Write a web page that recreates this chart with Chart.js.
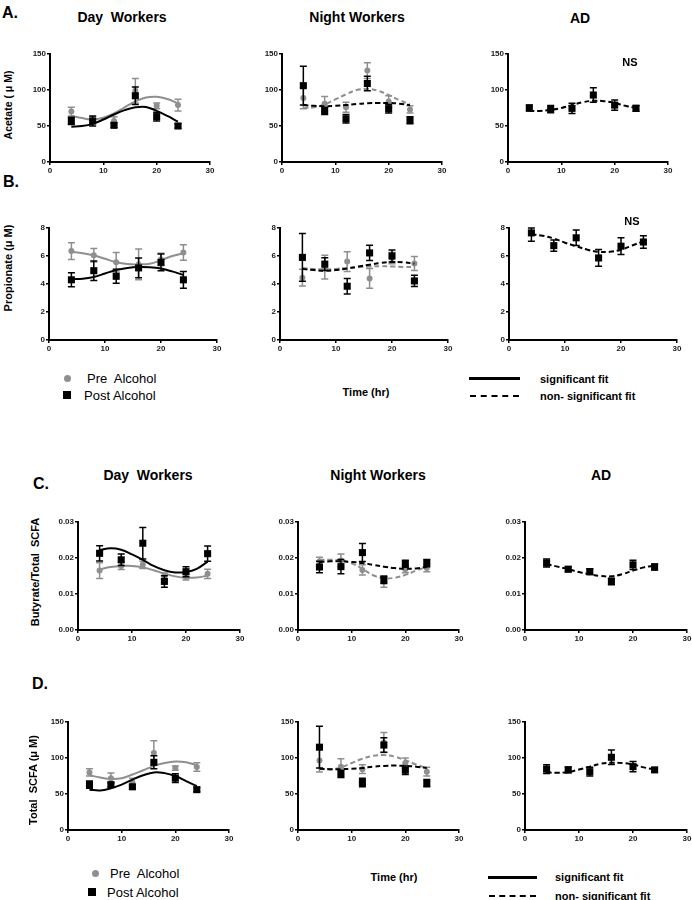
<!DOCTYPE html>
<html>
<head>
<meta charset="utf-8">
<script src="https://cdn.jsdelivr.net/npm/chart.js@4"></script>
<style>
  body { margin: 0; width: 692px; height: 900px; position: relative; overflow: hidden; background: #fff;
         font-family: "Liberation Sans", Arial, sans-serif; color: #000; }
  canvas { position: absolute; }
  .t { position: absolute; white-space: pre; transform: translate(-50%, -50%); font-weight: bold; line-height: 1; }
  .l { position: absolute; white-space: pre; transform: translate(0, -50%); line-height: 1; }
  .yt { position: absolute; white-space: pre; transform: translate(-50%, -50%) rotate(-90deg); font-weight: bold; font-size: 11px; line-height: 1; }
  .sw { position: absolute; }
</style>
</head>
<body>
<script>
const hours = [4, 8, 12, 16, 20, 24];
const fitHours = [4, 6, 8, 10, 12, 14, 16, 18, 20, 22, 24];
const xTicks = [0, 10, 20, 30];
const concTicks = [0, 50, 100, 150];
const propTicks = [0, 2, 4, 6, 8];
const ratioTicks = [0, 0.01, 0.02, 0.03];

// A. acetate
const acDayPre = [70, 58, 57, 99, 78, 79];
const acDayPreErr = [6, 5, 6, 17, 4, 8];
const acDayPost = [57, 57, 51, 92, 63, 50];
const acDayPostErr = [5, 7, 3, 12, 6, 3];
const acDayPreFit = [64, 61, 59, 61.5, 67.5, 76, 84, 89.5, 90.5, 87.5, 81.5];
const acDayPostFit = [49, 50, 53, 59, 66, 72, 76, 76.5, 71, 64, 56];

const acNightPre = [89, 81, 76, 127, 84, 73];
const acNightPreErr = [15, 10, 7, 11, 8, 5];
const acNightPost = [106, 71, 60, 109, 74, 58];
const acNightPostErr = [27, 5, 6, 10, 6, 5];
const acNightPreFit = [75, 76, 80, 87, 94, 100, 101.5, 99, 93, 86, 80];
const acNightPostFit = [79, 78, 77.5, 78, 79, 80.5, 81.5, 82, 82, 81, 79];

const acAD = [75, 73.5, 74.5, 93, 79, 74.5];
const acADErr = [4, 5, 7, 10, 7, 4];
const acADFit = [71, 71, 72.5, 75, 79, 83, 85, 84.5, 82, 78, 75];

// B. propionate
const prDayPre = [6.35, 6.05, 5.55, 5.4, 5.75, 6.25];
const prDayPreErr = [0.6, 0.48, 0.7, 1.1, 0.45, 0.55];
const prDayPost = [4.3, 4.95, 4.55, 5.15, 5.55, 4.3];
const prDayPostErr = [0.5, 0.7, 0.5, 0.7, 0.6, 0.6];
const prDayPreFit = [6.3, 6.2, 6.05, 5.8, 5.55, 5.42, 5.4, 5.45, 5.7, 6.0, 6.2];
const prDayPostFit = [4.35, 4.37, 4.5, 4.75, 5.0, 5.15, 5.22, 5.2, 5.1, 4.9, 4.65];

const prNightPre = [4.45, 5.2, 5.6, 4.4, 5.85, 5.47];
const prNightPreErr = [0.6, 0.85, 0.7, 0.7, 0.4, 0.5];
const prNightPost = [5.9, 5.42, 3.84, 6.22, 6.0, 4.22];
const prNightPostErr = [1.7, 0.45, 0.55, 0.55, 0.42, 0.4];
const prNightPreFit = [5.15, 5.08, 5.05, 5.08, 5.15, 5.2, 5.25, 5.27, 5.25, 5.22, 5.2];
const prNightPostFit = [5.08, 5.0, 4.95, 5.0, 5.1, 5.25, 5.38, 5.5, 5.57, 5.55, 5.45];

const prAD = [7.65, 6.74, 7.3, 5.86, 6.7, 7.0];
const prADErr = [0.6, 0.4, 0.55, 0.6, 0.6, 0.45];
const prADFit = [7.55, 7.45, 7.25, 6.95, 6.7, 6.45, 6.3, 6.3, 6.45, 6.75, 7.05];

// C. butyrate / total SCFA
const buDayPre = [0.0165, 0.0178, 0.0181, 0.0150, 0.0147, 0.0156];
const buDayPreErr = [0.0022, 0.001, 0.001, 0.0008, 0.0008, 0.0013];
const buDayPost = [0.0213, 0.0195, 0.0241, 0.0135, 0.0162, 0.0212];
const buDayPostErr = [0.0021, 0.0016, 0.0044, 0.0016, 0.0014, 0.0021];
const buDayPreFit = [0.0168, 0.0175, 0.0178, 0.0178, 0.0174, 0.0166, 0.0157, 0.0149, 0.0145, 0.0146, 0.0151];
const buDayPostFit = [0.0222, 0.0227, 0.0223, 0.0210, 0.0195, 0.0178, 0.0166, 0.0160, 0.0161, 0.0170, 0.0190];

const buNightPre = [0.0190, 0.0193, 0.0167, 0.0135, 0.0169, 0.0172];
const buNightPreErr = [0.0012, 0.0018, 0.0014, 0.0016, 0.001, 0.001];
const buNightPost = [0.0175, 0.0176, 0.0215, 0.0139, 0.0184, 0.0186];
const buNightPostErr = [0.0016, 0.002, 0.0025, 0.001, 0.001, 0.001];
const buNightPreFit = [0.0195, 0.0195, 0.0193, 0.0185, 0.0170, 0.0152, 0.0144, 0.0145, 0.0153, 0.0165, 0.0175];
const buNightPostFit = [0.0189, 0.0191, 0.0191, 0.0189, 0.0186, 0.0181, 0.0176, 0.0172, 0.0170, 0.0171, 0.0175];

const buAD = [0.0186, 0.0169, 0.0162, 0.0135, 0.0181, 0.0175];
const buADErr = [0.0011, 0.0007, 0.0008, 0.0009, 0.0013, 0.0008];
const buADFit = [0.0183, 0.0176, 0.0169, 0.0161, 0.0155, 0.0150, 0.0149, 0.0155, 0.0165, 0.0174, 0.0179];

// D. total SCFA
const toDayPre = [80, 72, 66, 107, 86, 87.5];
const toDayPreErr = [5, 7, 6, 17, 3, 6];
const toDayPost = [63, 63, 60, 94, 72, 56];
const toDayPostErr = [5, 3, 3, 9, 6, 3];
const toDayPreFit = [76, 73, 71, 72, 77, 83, 89, 93, 95, 94, 90];
const toDayPostFit = [56, 55, 58, 63, 70, 76, 80, 79, 75, 68, 61];

const toNightPre = [96.5, 88, 84.5, 121.5, 93, 81];
const toNightPreErr = [16, 11, 6, 14, 7, 6];
const toNightPost = [115, 78, 66, 118, 83, 65];
const toNightPostErr = [29, 5, 6, 10, 6, 5];
const toNightPreFit = [85, 84, 87, 93, 99, 103, 104, 102, 97, 91, 86];
const toNightPostFit = [85, 84.5, 84.5, 85, 86, 88, 89, 89.5, 89, 88, 86];

const toAD = [84.5, 83.5, 81, 101, 88, 83.5];
const toADErr = [6, 4, 6, 10, 7, 3];
const toADFit = [80, 79.5, 80.5, 84, 88, 92, 93.5, 93, 91, 87, 84];

const GRAY = '#8f8f8f';
const BLACK = '#000';

// error bars drawn through the chart's own scales, just under each point set
const errBars = {
  id: 'errBars',
  beforeDatasetDraw(chart, args) {
    const ds = chart.data.datasets[args.index];
    if (!ds.errs) return;
    const { ctx, chartArea } = chart;
    const x = chart.scales.x, y = chart.scales.y;
    ctx.save();
    ctx.strokeStyle = ds.borderColor;
    ctx.lineWidth = 1.5;
    ds.data.forEach((p, i) => {
      const px = x.getPixelForValue(p.x);
      const top = Math.max(chartArea.top, y.getPixelForValue(p.y + ds.errs[i]));
      const bot = y.getPixelForValue(p.y - ds.errs[i]);
      ctx.beginPath();
      ctx.moveTo(px, top); ctx.lineTo(px, bot);
      ctx.moveTo(px - 3.5, top); ctx.lineTo(px + 3.5, top);
      ctx.moveTo(px - 3.5, bot); ctx.lineTo(px + 3.5, bot);
      ctx.stroke();
    });
    ctx.restore();
  }
};

function pts(vals) { return hours.map((h, i) => ({ x: h, y: vals[i] })); }
function fit(vals) { return fitHours.map((h, i) => ({ x: h, y: vals[i] })); }

function pointSet(vals, errs, color) {
  const sq = color === BLACK;
  return {
    data: pts(vals), errs: errs, showLine: false,
    pointStyle: sq ? 'rect' : 'circle', pointRadius: sq ? 5 : 3,
    backgroundColor: color, borderColor: color, borderWidth: 0
  };
}
function fitLine(vals, color, dashed) {
  return {
    data: fit(vals), showLine: true, pointRadius: 0, borderColor: color,
    borderWidth: 2, borderDash: dashed ? [5, 3] : [], tension: 0.4, fill: false
  };
}

const ML = 30, MT = 8, MR = 8, MB = 16;
const tickFont = { family: '"Liberation Sans", Arial, sans-serif', size: 8, weight: 'bold' };

function panel(box, yTicks, digits, datasets) {
  const [l, t, r, b] = box;
  const cv = document.createElement('canvas');
  const w = r - l + ML + MR, h = b - t + MT + MB;
  cv.width = w; cv.height = h;
  cv.style.left = (l - ML) + 'px'; cv.style.top = (t - MT) + 'px';
  cv.style.width = w + 'px'; cv.style.height = h + 'px';
  document.body.appendChild(cv);
  const axis = (ticks) => ({
    type: 'linear', min: ticks[0], max: ticks[ticks.length - 1],
    afterBuildTicks: s => { s.ticks = ticks.map(v => ({ value: v })); },
    grid: { drawOnChartArea: false, drawTicks: true, tickLength: 3, color: '#000', lineWidth: 1.5 },
    border: { color: '#000', width: 2 },
    ticks: { font: tickFont, color: '#1a1a1a', padding: 1, maxRotation: 0 }
  });
  const x = axis(xTicks);
  x.afterFit = s => { s.height = MB; };
  const y = axis(yTicks);
  y.afterFit = s => { s.width = ML; };
  y.ticks.callback = v => v.toFixed(digits);
  new Chart(cv, {
    type: 'scatter',
    data: { datasets },
    options: {
      responsive: false, animation: false, devicePixelRatio: 1,
      layout: { padding: { top: MT, right: MR, left: 0, bottom: 0 } },
      plugins: { legend: { display: false }, tooltip: { enabled: false } },
      scales: { x, y }
    },
    plugins: [errBars]
  });
}

function both(pre, preErr, post, postErr, preFit, postFit, dashed) {
  return [
    pointSet(post, postErr, BLACK), fitLine(postFit, BLACK, dashed),
    pointSet(pre, preErr, GRAY), fitLine(preFit, GRAY, dashed)
  ];
}
function single(vals, errs, f) {
  return [pointSet(vals, errs, BLACK), fitLine(f, BLACK, true)];
}

// row A
panel([50, 54, 210, 162], concTicks, 0, both(acDayPre, acDayPreErr, acDayPost, acDayPostErr, acDayPreFit, acDayPostFit, false));
panel([282, 54, 442, 162], concTicks, 0, both(acNightPre, acNightPreErr, acNightPost, acNightPostErr, acNightPreFit, acNightPostFit, true));
panel([508, 54, 668, 162], concTicks, 0, single(acAD, acADErr, acADFit));
// row B
panel([49, 228, 217, 340], propTicks, 0, both(prDayPre, prDayPreErr, prDayPost, prDayPostErr, prDayPreFit, prDayPostFit, false));
panel([280, 228, 448, 340], propTicks, 0, both(prNightPre, prNightPreErr, prNightPost, prNightPostErr, prNightPreFit, prNightPostFit, true));
panel([509, 228, 677, 340], propTicks, 0, single(prAD, prADErr, prADFit));
// row C
panel([78, 522, 240, 630], ratioTicks, 2, both(buDayPre, buDayPreErr, buDayPost, buDayPostErr, buDayPreFit, buDayPostFit, false));
panel([298, 522, 459, 630], ratioTicks, 2, both(buNightPre, buNightPreErr, buNightPost, buNightPostErr, buNightPreFit, buNightPostFit, true));
panel([525, 522, 687, 630], ratioTicks, 2, single(buAD, buADErr, buADFit));
// row D
panel([68, 722, 229, 830], concTicks, 0, both(toDayPre, toDayPreErr, toDayPost, toDayPostErr, toDayPreFit, toDayPostFit, false));
panel([298, 722, 459, 830], concTicks, 0, both(toNightPre, toNightPreErr, toNightPost, toNightPostErr, toNightPreFit, toNightPostFit, true));
panel([525, 722, 687, 830], concTicks, 0, single(toAD, toADErr, toADFit));

// text
function txt(cls, s, x, y, size, extra) {
  const d = document.createElement('div');
  d.className = cls; d.textContent = s;
  d.style.left = x + 'px'; d.style.top = y + 'px';
  if (size) d.style.fontSize = size + 'px';
  if (extra) Object.assign(d.style, extra);
  document.body.appendChild(d);
}
function sw(x, y, w, h, style) {
  const d = document.createElement('div');
  d.className = 'sw';
  Object.assign(d.style, { left: x + 'px', top: y + 'px', width: w + 'px', height: h + 'px' }, style);
  document.body.appendChild(d);
}

txt('t', 'A.', 10, 13, 16);
txt('t', 'Day  Workers', 122, 17, 14);
txt('t', 'Night Workers', 357, 17, 14);
txt('t', 'AD', 580, 18, 14);
txt('t', 'NS', 630, 62, 11);
txt('yt', 'Acetate ( \u03bc M)', 8, 105, 10.5);

txt('t', 'B.', 11, 182, 16);
txt('t', 'NS', 632, 221, 11);
txt('yt', 'Propionate (\u03bc M)', 8, 268);

txt('t', 'C.', 41, 484, 16);
txt('t', 'Day  Workers', 148, 475, 14);
txt('t', 'Night Workers', 378, 475, 14);
txt('t', 'AD', 601, 475, 14);
txt('yt', 'Butyrate/Total  SCFA', 35, 572);

txt('t', 'D.', 40, 684, 16);
txt('yt', 'Total  SCFA (\u03bc M)', 33, 780);

// legend row B
sw(63.5, 374.5, 7, 7, { background: GRAY, borderRadius: '50%' });
txt('l', 'Pre  Alcohol', 87, 378, 13);
sw(63, 391, 8, 8, { background: BLACK });
txt('l', 'Post Alcohol', 84, 395, 13);
txt('t', 'Time (hr)', 366, 392, 11);
sw(469, 377, 51, 2.5, { background: BLACK });
txt('l', 'significant fit', 540, 379, 11, { fontWeight: 'bold' });
sw(470, 395, 49, 0, { borderTop: '2.5px dashed #000' });
txt('l', 'non- significant fit', 540, 396, 11, { fontWeight: 'bold' });

// legend row D
sw(91.5, 869.5, 7, 7, { background: GRAY, borderRadius: '50%' });
txt('l', 'Pre  Alcohol', 110, 873, 13);
sw(88, 888, 8, 8, { background: BLACK });
txt('l', 'Post Alcohol', 107, 892, 13);
txt('t', 'Time (hr)', 394, 877, 11);
sw(488, 876, 49, 2.5, { background: BLACK });
txt('l', 'significant fit', 555, 877, 11, { fontWeight: 'bold' });
sw(489, 895, 47, 0, { borderTop: '2.5px dashed #000' });
txt('l', 'non- significant fit', 555, 896, 11, { fontWeight: 'bold' });
</script>
</body>
</html>
